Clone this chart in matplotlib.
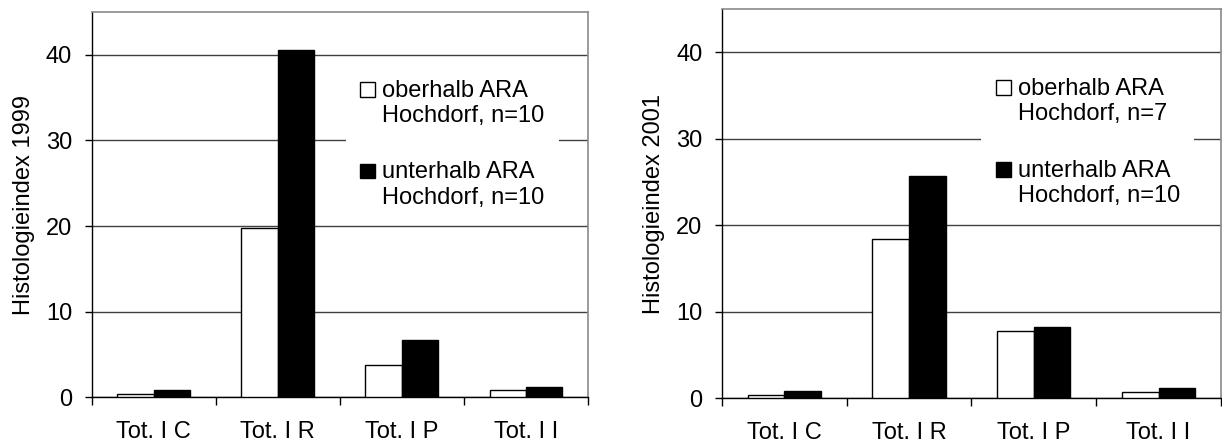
import matplotlib
matplotlib.use("Agg")
import matplotlib.pyplot as plt
import numpy as np
from matplotlib.container import BarContainer
from matplotlib.legend_handler import HandlerPatch, update_from_first_child
from matplotlib.patches import Rectangle

plt.rcParams['font.family'] = ['Liberation Sans', 'DejaVu Sans']

categories = ["Tot. I C", "Tot. I R", "Tot. I P", "Tot. I I"]

above_1999 = [0.35, 19.8, 3.77, 0.8]
below_1999 = [0.85, 40.6, 6.7, 1.2]
above_2001 = [0.35, 18.45, 7.8, 0.73]
below_2001 = [0.85, 25.7, 8.2, 1.2]

label_above_1999 = "oberhalb ARA\nHochdorf, n=10"
label_below_1999 = "unterhalb ARA\nHochdorf, n=10"
label_above_2001 = "oberhalb ARA\nHochdorf, n=7"
label_below_2001 = "unterhalb ARA\nHochdorf, n=10"

yticks = [0, 10, 20, 30, 40]
FS = 17
BAR_W = 0.293


def square_handle(legend, orig_handle, xdescent, ydescent, width, height, fontsize):
    # square next to the first line of a two-line label
    s = 0.62 * fontsize
    return Rectangle((-xdescent, 0.64 * fontsize), width, s)


def draw_panel(ax, above, below, lab_a, lab_b, ylabel, leg_anchor):
    x = np.arange(len(categories))
    ax.bar(x - BAR_W / 2, above, BAR_W, color='white', edgecolor='black',
           linewidth=1, label=lab_a, zorder=3)
    ax.bar(x + BAR_W / 2, below, BAR_W, color='black', edgecolor='black',
           linewidth=1, label=lab_b, zorder=3)
    ax.set_xlim(-0.5, len(categories) - 0.5)
    ax.set_ylim(0, 45)
    ax.set_yticks(yticks)
    ax.yaxis.grid(True, color='#404040', linewidth=1)
    ax.set_axisbelow(True)
    ax.set_xticks(x)
    ax.set_xticklabels(categories, fontsize=FS)
    ax.set_xticks(np.arange(len(categories) + 1) - 0.5, minor=True)
    ax.tick_params(axis='x', which='major', length=0, pad=17)
    ax.tick_params(axis='x', which='minor', length=6, width=1, direction='out')
    ax.tick_params(axis='y', length=5, width=1, pad=9, labelsize=FS)
    ax.set_ylabel(ylabel, fontsize=FS, labelpad=8)
    for s in ['top', 'right']:
        ax.spines[s].set_color('#8a8a8a')
        ax.spines[s].set_linewidth(1.2)
    for s in ['left', 'bottom']:
        ax.spines[s].set_color('black')
        ax.spines[s].set_linewidth(1)
    handler = HandlerPatch(patch_func=square_handle, update_func=update_from_first_child)
    leg = ax.legend(loc='upper left', bbox_to_anchor=leg_anchor, fontsize=FS,
                    frameon=True, framealpha=1, edgecolor='none', fancybox=False,
                    handlelength=0.65, handleheight=1.6, handletextpad=0.3,
                    borderpad=0.6, borderaxespad=0, labelspacing=1.45,
                    handler_map={BarContainer: handler})
    for t in leg.get_texts():
        t.set_linespacing(1.2)
    leg.set_zorder(5)


fig = plt.figure(figsize=(12.22, 4.46), dpi=100)
ax1 = fig.add_axes([0.0750, 0.1092, 0.4061, 0.8639])
ax2 = fig.add_axes([0.5906, 0.1070, 0.4086, 0.8729])

draw_panel(ax1, above_1999, below_1999, label_above_1999, label_below_1999,
           "Histologieindex 1999", (0.512, 0.861))
draw_panel(ax2, above_2001, below_2001, label_above_2001, label_below_2001,
           "Histologieindex 2001", (0.52, 0.859))

fig.savefig("out.png", dpi=100)
